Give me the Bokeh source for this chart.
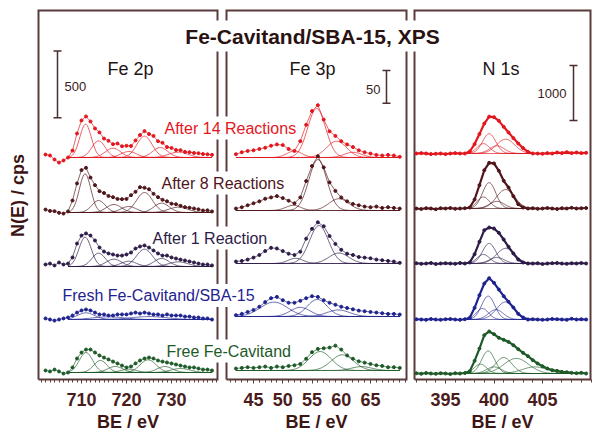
import math
from bokeh.plotting import figure
from bokeh.models import Range1d, LinearAxis, FixedTicker
from bokeh.core.properties import value
from bokeh.embed import file_html
from bokeh.resources import INLINE

# ================= data =================
title_text = "Fe-Cavitand/SBA-15, XPS"
row_labels = ["After 14 Reactions", "After 8 Reactions", "After 1 Reaction",
              "Fresh Fe-Cavitand/SBA-15", "Free Fe-Cavitand"]
panel_titles = {"fe2p": "Fe 2p", "fe3p": "Fe 3p", "n1s": "N 1s"}

# Fe 2p : binding energy (eV) and background-subtracted counts
fe2p_be = list(range(702, 740))
fe2p_after14 = [22, 15, -15, -38, -22, 0, 52, 180, 278, 308, 270, 218, 188, 142, 125, 100, 105, 84, 88, 86,
                128, 168, 198, 176, 162, 122, 110, 78, 72, 56, 55, 42, 40, 34, 32, 26, 24, 20]
fe2p_after8 = [22, 12, 10, -2, -8, 8, 90, 218, 318, 335, 262, 205, 160, 146, 124, 115, 102, 100, 102, 130,
               155, 190, 186, 174, 140, 115, 95, 84, 66, 62, 50, 40, 36, 30, 24, 15, 16, 8]
fe2p_after1 = [15, 22, 8, 30, 15, 22, 68, 172, 232, 248, 232, 195, 142, 112, 98, 90, 82, 82, 90, 105,
               135, 150, 158, 142, 120, 98, 82, 82, 68, 60, 52, 45, 38, 30, 22, 15, 15, 8]
fe2p_fresh = [8, 0, -8, 0, 8, 15, 30, 52, 68, 75, 68, 52, 38, 38, 30, 30, 38, 38, 38, 45,
              52, 45, 52, 45, 38, 38, 30, 38, 30, 30, 30, 22, 22, 15, 15, 8, 8, 0]
fe2p_free = [15, 8, 22, 8, -8, 0, 38, 105, 150, 172, 172, 150, 128, 112, 98, 82, 68, 52, 38, 45,
             68, 90, 105, 112, 105, 90, 82, 75, 68, 60, 52, 45, 38, 38, 30, 22, 22, 15]
fe2p_fit_range = (707, 739)
# fitted components: (centre eV, height counts, FWHM eV)
fe2p_fit_after14 = [(710.9, 250, 3.0), (713.8, 125, 3.5), (717.0, 70, 4.0), (720.5, 45, 4.0),
                    (724.0, 160, 4.0), (727.5, 75, 4.0), (731.5, 40, 5.0)]
fe2p_fit_after8 = [(710.8, 290, 3.0), (713.8, 90, 3.5), (717.2, 60, 4.0), (720.5, 45, 4.0),
                   (724.0, 150, 4.2), (727.8, 70, 4.0), (731.5, 40, 5.0)]
fe2p_fit_after1 = [(710.8, 220, 3.2), (713.8, 100, 3.5), (717.2, 55, 4.0), (720.5, 40, 4.0),
                   (724.0, 130, 4.2), (727.8, 60, 4.0), (731.5, 35, 5.0)]
fe2p_fit_fresh = [(711.0, 50, 4.5), (716.0, 20, 8.0), (725.0, 22, 9.0)]
fe2p_fit_free = [(711.0, 150, 3.5), (714.2, 90, 3.5), (717.5, 45, 4.0), (720.5, 25, 4.0),
                 (724.8, 95, 4.2), (728.5, 45, 4.0), (732.0, 30, 5.0)]

# Fe 3p
fe3p_be = list(range(42, 71))
fe3p_after14 = [5, 8, 10, 11, 13, 15, 18, 20, 19, 13, 10, 25, 50, 71, 80, 58, 40, 33, 25, 20,
                16, 11, 8, 6, 4, 3, 4, 3, 1]
fe3p_after8 = [3, 5, 8, 11, 14, 18, 20, 22, 19, 15, 11, 20, 45, 68, 83, 66, 43, 30, 20, 14,
               10, 8, 6, 5, 6, 4, 5, 4, 3]
fe3p_after1 = [3, 4, 6, 9, 13, 19, 24, 23, 19, 15, 13, 18, 38, 53, 63, 57, 42, 30, 21, 15,
               13, 10, 9, 8, 6, 5, 4, 3, 1]
fe3p_fresh = [2, 4, 7, 10, 15, 22, 28, 30, 25, 21, 21, 24, 28, 31, 30, 25, 21, 18, 15, 13,
              11, 9, 8, 7, 6, 5, 4, 4, 3]
fe3p_free = [3, 4, 5, 4, 5, 6, 4, 6, 5, 7, 8, 10, 18, 28, 33, 34, 35, 38, 32, 23,
             18, 14, 12, 10, 8, 7, 5, 5, 4]
fe3p_fit_range = (42, 70)
fe3p_fit_after14 = [(52.0, 10, 3.0), (55.8, 75, 3.6), (59.2, 25, 4.0), (62.0, 8, 3.5)]
fe3p_fit_after8 = [(51.8, 8, 3.0), (56.0, 78, 3.6), (59.6, 18, 4.0)]
fe3p_fit_after1 = [(52.2, 8, 3.0), (56.2, 58, 3.8), (59.6, 16, 4.0)]
fe3p_fit_fresh = [(48.5, 22, 5.5), (53.0, 14, 4.0), (55.9, 26, 4.0), (59.5, 10, 4.5)]
fe3p_fit_free = [(56.4, 29, 4.5), (60.2, 24, 4.5), (63.5, 6, 4.0)]

# N 1s
n1s_be = [392.0, 392.5, 393.0, 393.5, 394.0, 394.5, 395.0, 395.5, 396.0, 396.5, 397.0, 397.5,
          398.0, 398.5, 399.0, 399.5, 400.0, 400.5, 401.0, 401.5, 402.0, 402.5, 403.0, 403.5,
          404.0, 404.5, 405.0, 405.5, 406.0, 406.5, 407.0, 407.5, 408.0, 408.5, 409.0, 409.5]
n1s_after14 = [0, 7, 0, -11, -5, 0, -11, 0, 7, 0, 0, 36, 171, 353, 545, 670, 660, 594, 485, 382,
               280, 182, 98, 31, 0, 0, -5, 7, 0, 18, 7, 25, 7, 18, 7, 13]
n1s_after8 = [0, -9, 5, 0, -13, 5, 0, 9, -5, 0, 5, 18, 164, 424, 696, 830, 820, 685, 504, 382,
              224, 78, 18, 0, 5, -5, 0, 9, 0, -9, 5, 0, 13, 0, 5, 9]
n1s_after1 = [5, -5, 0, 9, -9, 0, 5, 0, -5, 9, 0, 18, 170, 394, 606, 654, 636, 557, 436, 303,
              182, 73, 18, 0, 0, 5, -9, 0, 5, 9, 0, -5, 5, 0, 9, 0]
n1s_fresh = [5, 0, -5, 9, 0, -5, 5, 9, 0, -5, 5, 31, 212, 442, 654, 751, 667, 545, 424, 321,
             218, 103, 36, 0, 5, 0, -5, 0, 9, 5, 0, -5, 13, 0, 5, 0]
n1s_free = [5, -5, 9, 0, -5, 5, 0, -9, 5, 0, 9, 42, 230, 454, 697, 764, 715, 649, 612, 575,
            515, 442, 376, 315, 242, 182, 133, 91, 61, 48, 30, 24, 12, 6, 12, 0]
n1s_fit_range = (396.5, 408.0)
n1s_fit_after14 = [(398.9, 180, 1.5), (399.5, 360, 1.6), (400.3, 140, 1.8), (401.2, 260, 2.2)]
n1s_fit_after8 = [(398.9, 210, 1.5), (399.5, 470, 1.6), (400.3, 130, 1.8), (401.2, 345, 2.2)]
n1s_fit_after1 = [(398.9, 165, 1.5), (399.5, 365, 1.6), (400.3, 110, 1.8), (401.2, 275, 2.2)]
n1s_fit_fresh = [(398.8, 200, 1.5), (399.4, 425, 1.6), (400.2, 180, 1.8), (401.2, 320, 2.2)]
n1s_fit_free = [(398.6, 170, 1.5), (399.4, 410, 1.6), (400.0, 120, 1.8), (401.0, 290, 2.0),
                (402.3, 275, 3.0), (404.2, 120, 3.0)]

# axis ticks and scale bars
fe2p_ticks = [710, 720, 730]
fe3p_ticks = [45, 50, 55, 60, 65]
n1s_ticks = [395, 400, 405]
fe2p_minor = list(range(701, 741))
fe3p_minor = list(range(41, 72))
n1s_minor = list(range(392, 411))
scale_bar_counts = {"fe2p": 500, "fe3p": 50, "n1s": 1000}
x_label = "BE / eV"
y_label = "N(E) / cps"

# ================= layout & style =================
ROW_COLORS = ["#e3161e", "#50161b", "#2e1c48", "#1f238f", "#1e5a28"]
BORDER = "#5c3b3b"
TICK_TXT = "#4a1c1c"
DARK = "#2a1212"
FONT = "Liberation Sans"

W, H = 592, 433
FR_L, FR_R, FR_T, FR_B = 0, 592, 0, 433    # frame = whole canvas (px)
Y0 = 379                                   # px of panel bottoms (0 counts)
BOX_TOP = 10
PANELS = {
    "fe2p": dict(anchor=(710, 81, 730, 171), cpp=500 / 66.7, box=(38, 217),
                 rows=[157, 212, 266, 319, 372], rn="default"),
    "fe3p": dict(anchor=(45, 253, 65, 370), cpp=50 / 32.7, box=(226, 406),
                 rows=[157, 210, 263, 316, 370], rn="fe3p"),
    "n1s": dict(anchor=(395, 445, 405, 542), cpp=1000 / 55, box=(414, 590),
                rows=[153, 208, 263, 319, 373], rn="n1s"),
}


def ex(key, px):
    ea, pa, eb, pb = PANELS[key]["anchor"]
    return ea + (px - pa) * (eb - ea) / (pb - pa)


def cy(key, py):
    return (Y0 - py) * PANELS[key]["cpp"]


def rn(key):
    n = PANELS[key]["rn"]
    return dict(x_range_name=n, y_range_name=n)


p = figure(width=W, height=H, output_backend="svg", toolbar_location=None,
           x_range=Range1d(ex("fe2p", FR_L), ex("fe2p", FR_R)),
           y_range=Range1d(cy("fe2p", FR_B), cy("fe2p", FR_T)),
           x_axis_location=None, y_axis_location=None,
           min_border_left=0, min_border_right=0, min_border_top=0, min_border_bottom=0)
for key in ("fe3p", "n1s"):
    p.extra_x_ranges[key] = Range1d(ex(key, FR_L), ex(key, FR_R))
    p.extra_y_ranges[key] = Range1d(cy(key, FR_B), cy(key, FR_T))

p.outline_line_color = None
p.grid.visible = False
p.background_fill_color = "white"
p.border_fill_color = "white"

# x axes, one per panel, drawn at the panel bottoms
for key, ticks, minor in (("fe2p", fe2p_ticks, fe2p_minor),
                          ("fe3p", fe3p_ticks, fe3p_minor),
                          ("n1s", n1s_ticks, n1s_minor)):
    b0, b1 = PANELS[key]["box"]
    ax = LinearAxis(x_range_name=PANELS[key]["rn"], fixed_location=0,
                    bounds=(ex(key, b0), ex(key, b1)),
                    ticker=FixedTicker(ticks=ticks, minor_ticks=minor),
                    axis_line_color=None,
                    major_tick_line_color=BORDER, minor_tick_line_color=BORDER,
                    major_tick_in=0, major_tick_out=4, minor_tick_in=0, minor_tick_out=3,
                    major_label_text_font=FONT, major_label_text_font_style="bold",
                    major_label_text_font_size="18px", major_label_text_color=TICK_TXT,
                    major_label_standoff=9)
    p.add_layout(ax, "below")
    p.text(x=[ex(key, (b0 + b1) / 2)], y=[cy(key, 421)], text=[x_label], **rn(key),
           text_font=value(FONT), text_font_style="bold", text_font_size="18px",
           text_color="#3d1515", text_align="center", text_baseline="middle")

# y axis label
p.text(x=[ex("fe2p", 17.5)], y=[cy("fe2p", 195)], text=[y_label], angle=math.pi / 2,
       text_font=value(FONT), text_font_style="bold", text_font_size="18px",
       text_color="#3d1515", text_align="center", text_baseline="middle")

# panel boxes
for key in PANELS:
    b0, b1 = PANELS[key]["box"]
    e0, e1 = ex(key, b0), ex(key, b1)
    top = cy(key, BOX_TOP)
    p.line([e0, e0, e1, e1, e0], [0, top, top, 0, 0], line_width=2, line_color=BORDER,
           line_join="miter", **rn(key))

# title and row labels (white background breaks the panel borders)
p.text(x=[ex("fe2p", 312)], y=[cy("fe2p", 35.5)], text=[title_text],
       text_font=value(FONT), text_font_style="bold", text_font_size="21px",
       text_color=DARK, text_align="center", text_baseline="middle",
       background_fill_color="white", padding=4)
label_pos = [(161, 127.5), (158, 182.5), (149, 237.5), (59, 295), (163, 350.5)]
for (lx, ly), txt, col in zip(label_pos, row_labels, ROW_COLORS):
    p.text(x=[ex("fe2p", lx)], y=[cy("fe2p", ly)], text=[txt],
           text_font=value(FONT), text_font_size="16px", text_color=col,
           text_align="left", text_baseline="middle",
           background_fill_color="white", padding=3)

# panel titles
title_pos = {"fe2p": (130, 68), "fe3p": (312, 68), "n1s": (500.5, 68.5)}
for key, (tx, ty) in title_pos.items():
    p.text(x=[ex(key, tx)], y=[cy(key, ty)], text=[panel_titles[key]], **rn(key),
           text_font=value(FONT), text_font_size="18px", text_color="#1e1414",
           text_align="center", text_baseline="middle")

# scale bars
bar_pos = {"fe2p": (57, 117.3), "fe3p": (386, 102.7), "n1s": (573, 120)}
bar_text = {"fe2p": (64, 85.5, "left"), "fe3p": (380, 89, "right"), "n1s": (566, 93, "right")}
for key, (bx, by) in bar_pos.items():
    x0 = ex(key, bx)
    y0 = cy(key, by)
    y1 = y0 + scale_bar_counts[key]
    xl, xr = ex(key, bx - 4), ex(key, bx + 4)
    p.segment(x0=[x0, xl, xl], y0=[y0, y0, y1], x1=[x0, xr, xr], y1=[y1, y0, y1],
              line_color="#4b2e2e", line_width=1.5, **rn(key))
    tx, ty, al = bar_text[key]
    p.text(x=[ex(key, tx)], y=[cy(key, ty)], text=[str(scale_bar_counts[key])], **rn(key),
           text_font=value(FONT), text_font_size="13px", text_color="#3a2020",
           text_align=al, text_baseline="middle")


def gauss_curve(xs, c, h, w):
    return [h * math.exp(-4 * math.log(2) * (x - c) ** 2 / w ** 2) for x in xs]


SPECTRA = {
    "fe2p": (fe2p_be, [fe2p_after14, fe2p_after8, fe2p_after1, fe2p_fresh, fe2p_free],
             [fe2p_fit_after14, fe2p_fit_after8, fe2p_fit_after1, fe2p_fit_fresh, fe2p_fit_free],
             fe2p_fit_range, 0.25),
    "fe3p": (fe3p_be, [fe3p_after14, fe3p_after8, fe3p_after1, fe3p_fresh, fe3p_free],
             [fe3p_fit_after14, fe3p_fit_after8, fe3p_fit_after1, fe3p_fit_fresh, fe3p_fit_free],
             fe3p_fit_range, 0.2),
    "n1s": (n1s_be, [n1s_after14, n1s_after8, n1s_after1, n1s_fresh, n1s_free],
            [n1s_fit_after14, n1s_fit_after8, n1s_fit_after1, n1s_fit_fresh, n1s_fit_free],
            n1s_fit_range, 0.05),
}

for key, (be, rows, fits, (f0, f1), step) in SPECTRA.items():
    n = int(round((f1 - f0) / step))
    grid = [f0 + i * step for i in range(n + 1)]
    for i, (vals, comps) in enumerate(zip(rows, fits)):
        col = ROW_COLORS[i]
        off = cy(key, PANELS[key]["rows"][i])
        # fit baseline and components
        p.line([f0, f1], [off, off], line_color=col, line_width=0.8, alpha=0.85, **rn(key))
        for (c, h, w) in comps:
            ys = [off + v for v in gauss_curve(grid, c, h, w)]
            p.line(grid, ys, line_color=col, line_width=0.8, alpha=0.85, **rn(key))
        ys = [off + v for v in vals]
        if key == "n1s":
            p.line(be, ys, line_color=col, line_width=2.2, **rn(key))
            p.scatter(be, ys, size=3, color=col, **rn(key))
        else:
            p.line(be, ys, line_color=col, line_width=0.9, alpha=0.75, **rn(key))
            p.scatter(be, ys, size=3, color=col, **rn(key))

open("out.html", "w").write(file_html(p, INLINE))
